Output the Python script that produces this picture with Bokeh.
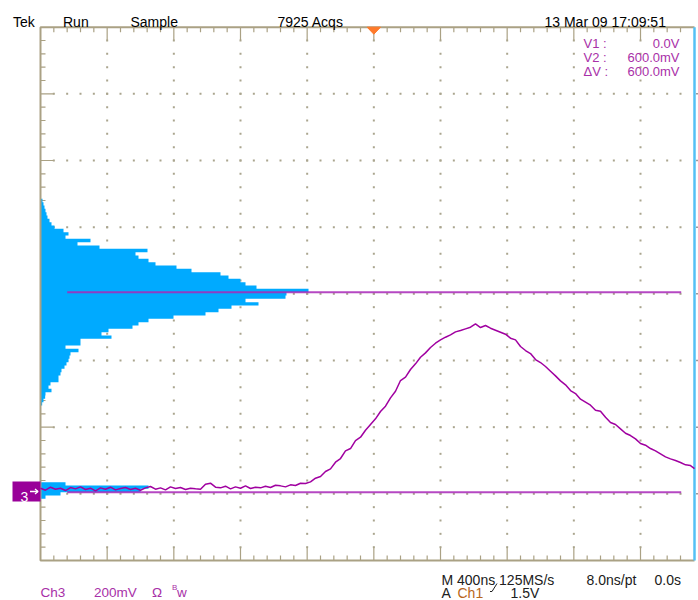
from bokeh.plotting import figure
from bokeh.models import Range1d
from bokeh.core.properties import value
from bokeh.embed import file_html
from bokeh.resources import INLINE

# ---------------- data ----------------
# Ch3 acquisition: time (ns, trigger at 0) and amplitude (mV)
sample_time_ns = list(range(-2000, 1901, 30)) + [1924]
ch3_mv = [12, 6, 15, 9, 12, 5, 14, 10, 16, 8,
          12, 4, 13, 9, 15, 7, 11, 14, 8, 12,
          6, 13, 17, 9, 13, 7, 16, 11, 14, 8,
          12, 10, 9, 24, 27, 15, 13, 18, 10, 16,
          12, 19, 11, 15, 13, 18, 14, 21, 19, 16,
          22, 20, 27,
          26, 31, 42, 47, 62, 70, 90, 101, 124, 131,
          155, 165, 186, 203, 220, 242, 258, 283, 303, 335,
          345, 368, 385, 405, 418, 434, 447, 457, 465, 472,
          481, 485, 490, 495, 505, 494, 500, 492, 486, 480,
          474, 462, 457, 437, 425, 416, 398, 389, 377, 363,
          349, 334, 322, 305, 296, 279, 270, 261, 246, 243,
          225, 209, 203, 190, 177, 170, 160, 146, 141, 131,
          124, 115, 106, 100, 95, 89, 82, 80,
          71]

# vertical histogram (bin centre in mV, hits): main cluster and baseline cluster
hist_level_mv = list(range(875, 264, -10))
hist_hits = [6, 9, 12, 15, 18, 21, 27, 33, 42, 69,
             84, 75, 150, 111, 177, 321, 285, 294, 324, 345,
             408, 453, 540, 564, 600, 615, 648, 804, 738, 735,
             615, 654, 573, 534, 495, 399, 324, 294, 276, 204,
             183, 213, 120, 120, 75, 114, 90, 87, 84, 78,
             72, 63, 60, 54, 54, 30, 24, 33, 15, 14,
             9, 5]
base_hist_level_mv = [25, 15, 5, -5, -15]
base_hist_hits = [75, 324, 300, 60, 15]

cursor_levels_mv = [0, 600]
cursor_names = ["V1 :", "V2 :", "\u0394V :"]
cursor_values = ["0.0V", "600.0mV", "600.0mV"]
trigger_time_ns = 0

header_texts = ["Tek", "Run", "Sample", "7925 Acqs", "13 Mar 09 17:09:51"]
status_row1 = ["M 400ns 125MS/s", "8.0ns/pt", "0.0s"]
ch3_settings = ["Ch3", "200mV", "\u03a9"]
trigger_settings = ["A", "Ch1", "1.5V"]

# ---------------- screen geometry ----------------
NS_PER_DIV, MV_PER_DIV = 400, 200
PX_PER_DIV = 66.667
NS_PER_PX = NS_PER_DIV / PX_PER_DIV
MV_PER_PX = MV_PER_DIV / PX_PER_DIV
NS_PER_HIT = 2.0
CENTER_PX = 373.333
GND_PY = 491.7
W, H = 698, 600


def X(px):
    return (px - CENTER_PX) * NS_PER_PX


def Y(py):
    return (GND_PY - py) * MV_PER_PX


T_LEFT = X(40)
T_RIGHT = X(694)
MV_TOP = Y(26.7)
MV_BOT = Y(560)

FONT = "Liberation Sans"
FRAME = "#aaa184"
DOT = "#aaa58e"
PURPLE = "#a000a0"
TXT_PURPLE = "#a830a8"

p = figure(width=W, height=H, output_backend="svg", toolbar_location=None,
           x_range=Range1d(X(0), X(W)), y_range=Range1d(Y(H), Y(0)),
           x_axis_location=None, y_axis_location=None)
p.min_border = 0
p.outline_line_color = None
p.grid.visible = False
p.background_fill_color = "white"
p.border_fill_color = "white"

# ---------------- graticule ----------------
minor_t = NS_PER_DIV / 5
minor_v = MV_PER_DIV / 5
dx, dy = [], []
for j in range(1, 8):
    row = MV_BOT + j * MV_PER_DIV
    for i in range(1, 49):
        dx.append(T_LEFT + i * minor_t)
        dy.append(row)
for k in range(1, 10):
    col = T_LEFT + k * NS_PER_DIV
    for m in range(1, 40):
        dx.append(col)
        dy.append(MV_BOT + m * minor_v)
p.scatter(dx, dy, marker="square", size=2, fill_color=DOT, line_color=None)

# edge ticks
sx0, sy0, sx1, sy1 = [], [], [], []
for i in range(1, 49):
    t = T_LEFT + i * minor_t
    L = 13 if i % 5 == 0 else 5
    sx0 += [t, t]; sx1 += [t, t]
    sy0 += [MV_TOP, MV_BOT]; sy1 += [MV_TOP - L * MV_PER_PX, MV_BOT + L * MV_PER_PX]
for m in range(1, 40):
    v = MV_BOT + m * minor_v
    L = 13 if m % 5 == 0 else 5
    sx0.append(T_LEFT); sx1.append(T_LEFT + L * NS_PER_PX)
    sy0.append(v); sy1.append(v)
p.segment(sx0, sy0, sx1, sy1, line_color=FRAME, line_width=1.2)
ry = [MV_BOT + j * MV_PER_DIV for j in range(1, 8)]
p.segment([X(695.5)] * len(ry), ry, [X(698)] * len(ry), ry, line_color="#9a9a9a", line_width=1.5)


# ---------------- histogram (drawn as step outlines, no seams) ----------------
def step_outline(levels, hits):
    xs, ys = [T_LEFT], [levels[0] + 5]
    for v, h in zip(levels, hits):
        r = T_LEFT + h * NS_PER_HIT
        xs += [r, r]
        ys += [v + 5, v - 5]
    xs.append(T_LEFT)
    ys.append(levels[-1] - 5)
    return xs, ys


hx1, hy1 = step_outline(hist_level_mv, hist_hits)
hx2, hy2 = step_outline(base_hist_level_mv, base_hist_hits)
p.patches([hx1, hx2], [hy1, hy2], fill_color="#00aaff", line_color=None)

# frame
p.line([T_RIGHT, T_LEFT, T_LEFT, T_RIGHT], [MV_TOP, MV_TOP, MV_BOT, MV_BOT],
       line_color=FRAME, line_width=2)
p.line([T_RIGHT, T_RIGHT], [MV_TOP, MV_BOT], line_color="#55c0f5", line_width=2.5)

# cursors
for lvl in cursor_levels_mv:
    p.line([X(66.7), X(680.7)], [lvl, lvl], line_color="#a828b8", line_alpha=0.85, line_width=2)

# waveform
p.line(sample_time_ns, ch3_mv, line_color=PURPLE, line_width=1.5)

# trigger position marker
p.patch([trigger_time_ns - 6.7 * NS_PER_PX, trigger_time_ns + 6.7 * NS_PER_PX, trigger_time_ns],
        [MV_TOP, MV_TOP, MV_TOP - 7 * MV_PER_PX], fill_color="#ff7a2a", line_color="#ff7a2a")

# channel 3 ground marker
p.quad(left=[X(12)], right=[X(40)], top=[Y(481)], bottom=[Y(501)],
       fill_color="#990099", line_color=None)
p.line([X(29.5), X(37.5)], [Y(491), Y(491)], line_color="white", line_width=1.3)
p.line([X(34.5), X(37.5), X(34.5)], [Y(488.5), Y(491), Y(493.5)], line_color="white", line_width=1.3)


def put(txt, px, py, color="black", size=14, align="left", baseline="alphabetic"):
    p.text(x=[X(px)], y=[Y(py)], text=[txt], text_color=color,
           text_font=value(FONT), text_font_size=value(f"{size}px"),
           text_align=align, text_baseline=baseline)


put("3", 20, 496, color="white", size=14)

# header
for txt, px in zip(header_texts, [12.5, 62.5, 130, 277, 544]):
    put(txt, px, 21.5, size=14)

# cursor readout
for n, (name, val) in enumerate(zip(cursor_names, cursor_values)):
    put(name, 583, 42.5 + 14 * n, color=TXT_PURPLE, size=13)
    put(val, 679, 42.5 + 14 * n, color=TXT_PURPLE, size=13, align="right")

# bottom status
ROW1, ROW2 = 579.5, 592
for txt, px in zip(ch3_settings, [40, 93.5, 151.5]):
    put(txt, px, ROW2, color=TXT_PURPLE, size=13.5)
put("B", 171.5, ROW2 - 5, color=TXT_PURPLE, size=8)
put("w", 176.5, ROW2, color=TXT_PURPLE, size=13.5)

for txt, px in zip(status_row1, [441, 586, 654]):
    put(txt, px, ROW1, color="#202020", size=14)
put(trigger_settings[0], 441, ROW2, color="#202020", size=14)
put(trigger_settings[1], 457, ROW2, color="#b8661a", size=14)
put(trigger_settings[2], 510, ROW2, color="#202020", size=14)
# rising-slope symbol
p.line([X(489.5), X(491.5), X(496.5)], [Y(ROW2 - 1), Y(ROW2 - 1), Y(ROW2 - 9)],
       line_color="#202020", line_width=1)

open("out.html", "w").write(file_html(p, INLINE))
